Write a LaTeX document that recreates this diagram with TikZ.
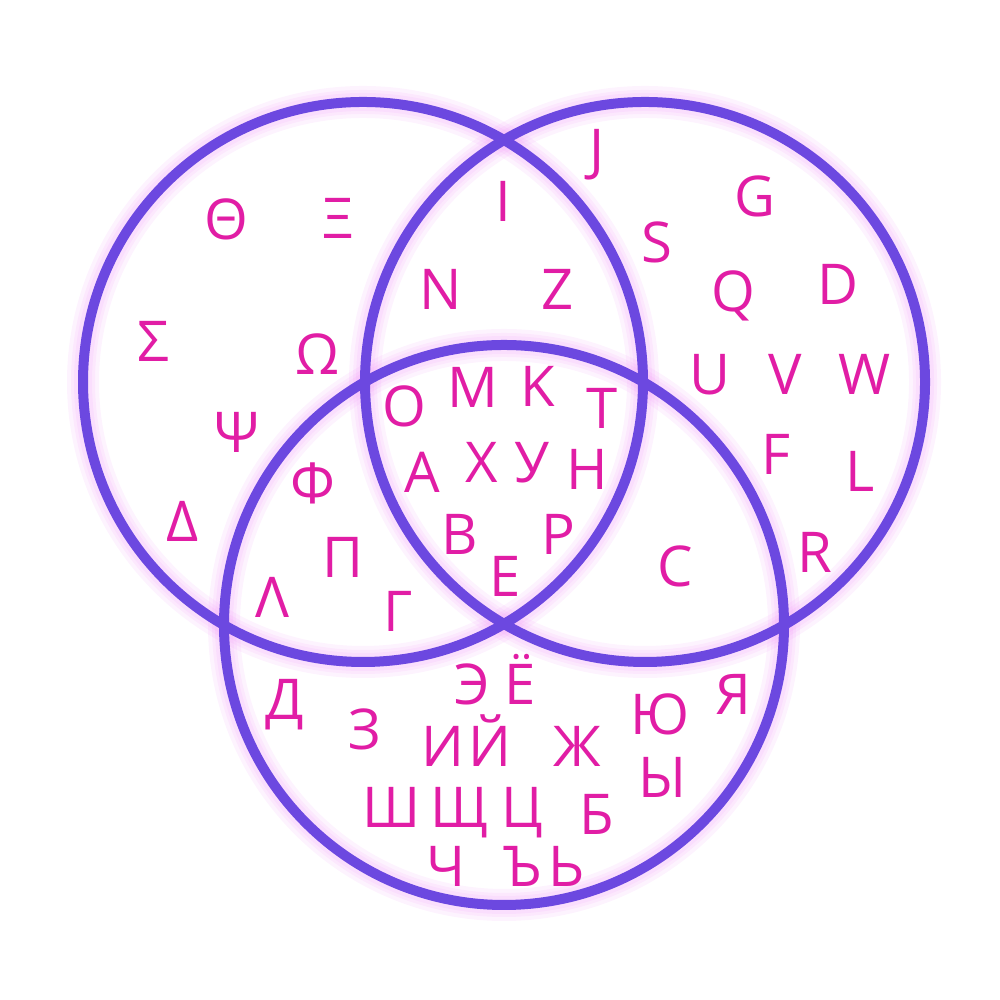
\documentclass[tikz,border=0pt]{standalone}
\usepackage{fontspec}
\setmainfont{Open Sans}
\usetikzlibrary{positioning}

\definecolor{ringviolet}{RGB}{108,72,224}
\definecolor{glowpink}{RGB}{236,120,245}
\definecolor{lettermagenta}{RGB}{225,29,165}

\tikzset{
  ring/.style={draw=ringviolet, line width=1mm},
  halo/.style={draw=glowpink, line width=#1, opacity=0.09},
  letter/.style={text=lettermagenta, font=\fontsize{16}{16}\selectfont,
    anchor=base, inner sep=0pt}
}

\begin{document}
\begin{tikzpicture}

\useasboundingbox (0,0) rectangle (10,10);

% Circle centres and radius
\def\rad{2.8}
\coordinate (cA) at (3.63,6.18);
\coordinate (cB) at (6.45,6.18);
\coordinate (cC) at (5.04,3.75);

% Soft glow under the rings
\foreach \w in {3.2mm,2.4mm,1.8mm} {
  \draw[halo=\w] (cA) circle (\rad);
  \draw[halo=\w] (cB) circle (\rad);
  \draw[halo=\w] (cC) circle (\rad);
}

% The three rings
\draw[ring] (cA) circle (\rad);
\draw[ring] (cB) circle (\rad);
\draw[ring] (cC) circle (\rad);

% Greek, left only
\node[letter] (theta) at (2.26,7.60) {Θ};
\node[letter] (xi)    at (3.38,7.61) {Ξ};
\node[letter] (sigma) at (1.53,6.38) {Σ};
\node[letter] (omega) at (3.17,6.25) {Ω};
\node[letter] (psi)   at (2.37,5.47) {Ψ};
\node[letter] (delta) at (1.83,4.58) {Δ};

% Left and right
\node[letter] (li) at (5.03,7.78) {I};
\node[letter] (ln) at (4.41,6.90) {N};
\node[letter] (lz) at (5.58,6.90) {Z};

% Latin, right only
\node[letter] (lj) at (5.97,8.30) {J};
\node[letter] (lg) at (7.55,7.83) {G};
\node[letter] (ls) at (6.57,7.37) {S};
\node[letter] (lq) at (7.33,6.88) {Q};
\node[letter] (ld) at (8.38,6.95) {D};
\node[letter] (lu) at (7.10,6.05) {U};
\node[letter] (lv) at (7.85,6.05) {V};
\node[letter] (lw) at (8.65,6.05) {W};
\node[letter] (lf) at (7.76,5.25) {F};
\node[letter] (ll) at (8.60,5.08) {L};
\node[letter] (lr) at (8.15,4.27) {R};

% All three
\node[letter] (co) at (4.04,5.73) {O};
\node[letter] (cm) at (4.73,5.92) {M};
\node[letter] (ck) at (5.38,5.93) {K};
\node[letter] (ct) at (6.02,5.71) {T};
\node[letter] (ca) at (4.22,5.07) {A};
\node[letter] (cx) at (4.82,5.17) {X};
\node[letter] (cu) at (5.32,5.17) {У};
\node[letter] (ch) at (5.87,5.10) {H};
\node[letter] (cb) at (4.60,4.45) {B};
\node[letter] (cp) at (5.58,4.45) {P};
\node[letter] (ce) at (5.05,4.03) {E};

% Left and bottom
\node[letter] (phi)    at (3.13,4.96) {Φ};
\node[letter] (pi)     at (3.43,4.22) {Π};
\node[letter] (lambda) at (2.72,3.82) {Λ};
\node[letter] (gamma)  at (3.98,3.68) {Γ};

% Right and bottom
\node[letter] (lc) at (6.75,4.13) {C};

% Cyrillic, bottom only
\node[letter] (cyrde)  at (2.85,2.80) {Д};
\node[letter] (cyrze)  at (3.65,2.50) {З};
\node[letter] (cyrea)  at (4.72,2.95) {Э};
\node[letter] (cyryo)  at (5.20,2.95) {Ё};
\node[letter] (cyri)   at (4.43,2.33) {И};
\node[letter] (cyrij)  at (4.90,2.33) {Й};
\node[letter] (cyrzh)  at (5.77,2.33) {Ж};
\node[letter] (cyrsh)  at (3.92,1.72) {Ш};
\node[letter] (cyrsc)  at (4.60,1.72) {Щ};
\node[letter] (cyrts)  at (5.22,1.72) {Ц};
\node[letter] (cyrbe)  at (5.97,1.65) {Б};
\node[letter] (cyrch)  at (4.46,1.13) {Ч};
\node[letter] (cyrhrd) at (5.23,1.13) {Ъ};
\node[letter] (cyrsft) at (5.67,1.13) {Ь};
\node[letter] (cyryu)  at (6.60,2.65) {Ю};
\node[letter] (cyrya)  at (7.33,2.85) {Я};
\node[letter] (cyryi)  at (6.62,2.02) {Ы};

\end{tikzpicture}
\end{document}
